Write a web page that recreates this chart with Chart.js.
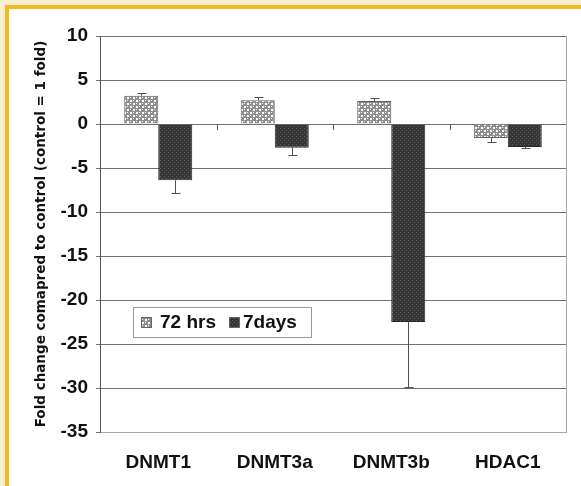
<!DOCTYPE html>
<html>
<head>
<meta charset="utf-8">
<script src="https://cdn.jsdelivr.net/npm/chart.js@4/dist/chart.umd.min.js"></script>
<style>
  html, body { margin: 0; padding: 0; }
  body { width: 581px; height: 486px; background: #fdf0d2; position: relative; overflow: hidden; }
  #frame { position: absolute; left: 5px; top: 5px; right: 0; bottom: 0; background: #fff;
           border-left: 4px solid #f4b823; border-top: 4px solid #f4b823; }
  #wrap { position: absolute; left: 0; top: 0; width: 581px; height: 486px; }
</style>
</head>
<body>
<div id="frame"></div>
<div id="wrap"><canvas id="chart" width="581" height="486"></canvas></div>
<script>
const categories = ["DNMT1", "DNMT3a", "DNMT3b", "HDAC1"];
const seriesNames = ["72 hrs", "7days"];
const hrs72 = [3.2, 2.7, 2.6, -1.6];
const hrs72Err = [0.3, 0.4, 0.3, 0.4];
const days7 = [-6.4, -2.7, -22.5, -2.6];
const days7Err = [1.4, 0.8, 7.4, 0.1];
const yTicks = [10, 5, 0, -5, -10, -15, -20, -25, -30, -35];

const FONT = "'Liberation Sans', Arial, sans-serif";

function makeLight() {
  const c = document.createElement("canvas");
  c.width = 6; c.height = 6;
  const g = c.getContext("2d");
  g.fillStyle = "#8e8e8e";
  g.fillRect(0, 0, 6, 6);
  g.fillStyle = "#ffffff";
  g.fillRect(1, 1, 2, 2);
  g.fillRect(4, 4, 2, 2);
  g.fillRect(4, 1, 1, 1);
  g.fillRect(1, 4, 1, 1);
  return g.createPattern(c, "repeat");
}

function makeDark() {
  const c = document.createElement("canvas");
  c.width = 4; c.height = 4;
  const g = c.getContext("2d");
  g.fillStyle = "#363636";
  g.fillRect(0, 0, 4, 4);
  g.fillStyle = "#5c5c5c";
  g.fillRect(0, 0, 1, 1);
  g.fillRect(2, 2, 1, 1);
  return g.createPattern(c, "repeat");
}

const lightFill = makeLight();
const darkFill = makeDark();
const errs = [hrs72Err, days7Err];

const extras = {
  id: "extras",
  afterDatasetsDraw(chart) {
    const ctx = chart.ctx;
    const x = chart.scales.x, y = chart.scales.y;
    const area = chart.chartArea;
    ctx.save();
    // right border of the plot
    ctx.strokeStyle = "#a8a8a8";
    ctx.lineWidth = 1;
    ctx.beginPath();
    ctx.moveTo(area.right + 0.5, area.top);
    ctx.lineTo(area.right + 0.5, area.bottom);
    ctx.stroke();
    // category tick marks on the zero line
    const y0 = Math.round(y.getPixelForValue(0));
    ctx.strokeStyle = "#555";
    for (let i = 0; i < categories.length - 1; i++) {
      const xb = Math.round((x.getPixelForValue(i) + x.getPixelForValue(i + 1)) / 2) + 0.5;
      ctx.beginPath();
      ctx.moveTo(xb, y0);
      ctx.lineTo(xb, y0 + 6);
      ctx.stroke();
    }
    // error bars
    ctx.strokeStyle = "#505050";
    chart.data.datasets.forEach((ds, di) => {
      const meta = chart.getDatasetMeta(di);
      meta.data.forEach((bar, i) => {
        const v = ds.data[i];
        const end = v + Math.sign(v) * errs[di][i];
        const px = Math.round(bar.x) + 0.5;
        const pv = y.getPixelForValue(v);
        const pe = Math.round(y.getPixelForValue(end)) + 0.5;
        ctx.beginPath();
        ctx.moveTo(px, pv);
        ctx.lineTo(px, pe);
        ctx.moveTo(px - 4, pe);
        ctx.lineTo(px + 5, pe);
        ctx.stroke();
      });
    });
    // legend box
    const lx = 133, ly = 307, lw = 178, lh = 30;
    ctx.fillStyle = "#fff";
    ctx.fillRect(lx, ly, lw, lh);
    ctx.strokeStyle = "#9a9a9a";
    ctx.strokeRect(lx + 0.5, ly + 0.5, lw, lh);
    const fills = [lightFill, darkFill];
    const sx = [141, 229], tx = [160, 243];
    ctx.font = "bold 19px " + FONT;
    ctx.textBaseline = "middle";
    ctx.textAlign = "left";
    for (let k = 0; k < 2; k++) {
      ctx.fillStyle = fills[k];
      ctx.fillRect(sx[k], ly + 10, 11, 11);
      ctx.strokeStyle = "#666";
      ctx.strokeRect(sx[k] + 0.5, ly + 10.5, 10, 10);
      ctx.fillStyle = "#111";
      ctx.fillText(chart.data.datasets[k].label, tx[k], ly + lh / 2 + 1);
    }
    ctx.restore();
  }
};

new Chart(document.getElementById("chart"), {
  type: "bar",
  data: {
    labels: categories,
    datasets: [
      { label: seriesNames[0], data: hrs72, backgroundColor: lightFill, borderColor: "#606060", borderWidth: 1 },
      { label: seriesNames[1], data: days7, backgroundColor: darkFill, borderColor: "#2a2a2a", borderWidth: 1 }
    ]
  },
  options: {
    responsive: false,
    animation: false,
    events: [],
    layout: { padding: { left: 0, right: 15, top: 36, bottom: 14 } },
    datasets: { bar: { categoryPercentage: 0.584, barPercentage: 1 } },
    plugins: { legend: { display: false }, tooltip: { enabled: false } },
    scales: {
      x: {
        grid: { display: false, drawTicks: false },
        border: { display: true, color: "#a8a8a8" },
        ticks: { color: "#111", font: { family: FONT, size: 19, weight: "bold" }, padding: 19, maxRotation: 0 },
        afterFit(s) { s.height = 40; }
      },
      y: {
        min: -35, max: 10,
        afterBuildTicks(s) { s.ticks = yTicks.map(v => ({ value: v })); },
        grid: { color: "#707070", lineWidth: 1, tickLength: 4 },
        border: { color: "#555" },
        ticks: { color: "#111", font: { family: FONT, size: 19, weight: "bold" }, padding: 8 },
        title: {
          display: true,
          text: "Fold change comapred to control (control = 1 fold)",
          color: "#111",
          font: { family: "'DejaVu Sans', Verdana, sans-serif", size: 13.5, weight: "bold" },
          padding: { top: 33, bottom: 0 }
        },
        afterFit(s) { s.width = 100; }
      }
    }
  },
  plugins: [extras]
});
</script>
</body>
</html>
